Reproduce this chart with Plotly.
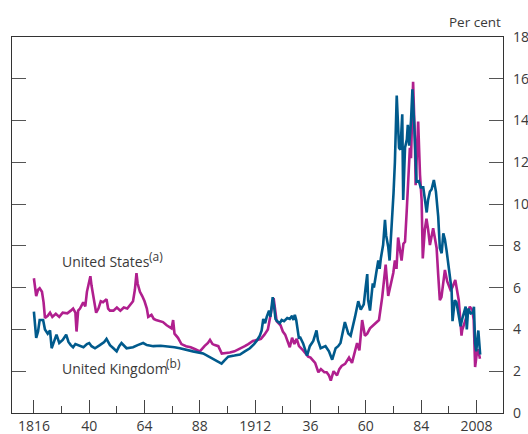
import plotly.graph_objects as go

us_years = [1816, 1816.6, 1817, 1817.8, 1818.5, 1819.5, 1820.2, 1820.8, 1822, 1823, 1824, 1825.5, 1827, 1828.5,
            1830.5, 1832, 1833, 1834, 1834.5, 1835.2, 1836, 1837.4, 1838.3, 1839, 1840.5, 1841, 1841.5, 1842.3,
            1843, 1844, 1845, 1846, 1847.5, 1848.2, 1849, 1850.5, 1852, 1853.5, 1855, 1856.5, 1858, 1859,
            1859.8, 1860.5, 1861, 1862, 1863, 1864, 1865, 1865.6, 1867, 1868, 1869, 1870.5, 1872, 1873.6,
            1875, 1875.7, 1876.4, 1877, 1878.5, 1880, 1882, 1884, 1886, 1888, 1890, 1891.5, 1892.4, 1893.5,
            1894.5, 1896, 1897.5, 1899, 1901, 1903, 1905, 1907.5, 1909, 1911, 1913, 1914.5, 1916, 1917.5,
            1918.5, 1919.2, 1920, 1920.7, 1921.3, 1923, 1924, 1925, 1926, 1927, 1928, 1929, 1930, 1931,
            1932.8, 1934, 1935, 1936, 1937.2, 1938, 1939.4, 1940.5, 1942, 1943, 1944, 1944.8, 1946, 1947.5,
            1948.5, 1949.5, 1951, 1952.7, 1954, 1955.3, 1956.2, 1957.2, 1958.4, 1959.6, 1960.6, 1961.8,
            1962.8, 1964, 1965.7, 1967.1, 1968.6, 1969.7, 1970.8, 1971.9, 1972.6, 1973.3, 1974, 1975.5,
            1976.3, 1977, 1977.7, 1978.4, 1979.1, 1979.6, 1980.5, 1981.3, 1981.6, 1982.7, 1983.5, 1984.2,
            1984.7, 1985.6, 1986.3, 1987, 1987.8, 1989.2, 1990.7, 1991.4, 1992.1, 1992.8, 1993.6, 1994.3,
            1995.3, 1996.7, 1997.5, 1998.8, 2000.3, 2001.5, 2001.8, 2002.5, 2003.3, 2004.7, 2005.1, 2006.2,
            2006.8, 2007.4, 2008.3, 2008.8, 2009.5]
us_values = [6.45, 6.0, 5.6, 5.9, 5.97, 5.8, 5.3, 4.55, 4.65, 4.8, 4.6, 4.75, 4.6, 4.8,
             4.77, 4.9, 5.0, 4.8, 3.9, 4.9, 5.0, 5.3, 5.1, 5.8, 6.55, 6.1, 5.8, 5.2,
             4.8, 5.0, 5.35, 5.3, 5.45, 5.0, 4.9, 4.9, 5.05, 4.9, 5.05, 5.0, 5.2, 5.35,
             5.9, 6.7, 6.2, 5.8, 5.6, 5.35, 5.0, 4.6, 4.7, 4.5, 4.45, 4.4, 4.35, 4.2,
             4.1, 4.05, 4.45, 3.8, 3.6, 3.3, 3.2, 3.15, 3.05, 2.95, 3.2, 3.35, 3.5, 3.3,
             3.25, 3.2, 2.85, 2.86, 2.9, 2.95, 3.05, 3.2, 3.3, 3.45, 3.5, 3.55, 3.75, 4.0,
             4.6, 5.1, 5.5, 4.9, 4.4, 4.2, 3.9, 3.75, 3.4, 3.15, 3.6, 3.3, 3.55, 3.2,
             3.0, 2.85, 2.7, 2.65, 2.5, 2.4, 1.95, 2.1, 1.95, 1.95, 1.8, 1.55, 2.0, 1.8,
             2.1, 2.25, 2.35, 2.65, 2.4, 3.0, 3.35, 3.0, 4.45, 3.7, 3.8, 4.05,
             4.15, 4.25, 4.45, 5.55, 7.1, 5.6, 6.2, 6.7, 7.3, 6.9, 8.4, 7.3,
             8.1, 8.2, 9.6, 10.9, 12.7, 12.2, 15.86, 13.0, 10.9, 13.95, 11.4, 10.2,
             7.4, 8.8, 9.3, 8.8, 8.04, 8.84, 7.9, 6.6, 5.4, 5.55, 6.2, 6.85,
             6.3, 5.9, 6.0, 6.37, 5.4, 3.7, 3.97, 4.2, 4.45, 5.0, 5.09, 4.93,
             4.45, 2.2, 3.0, 3.0, 2.6]

uk_years = [1816, 1816.5, 1817, 1817.8, 1818.5, 1820, 1820.8, 1822, 1823, 1823.7, 1825, 1825.8, 1827, 1828.5,
            1830, 1831, 1832, 1833, 1834, 1835, 1837.5, 1839, 1840, 1841, 1842.5, 1844.6, 1846.5, 1847.5,
            1849, 1850.5, 1851.9, 1853, 1854, 1856.2, 1859, 1861, 1863.4, 1865, 1867.8, 1871, 1874, 1877,
            1879.3, 1882, 1885, 1889.4, 1892, 1893.8, 1895.5, 1897.4, 1898.5, 1900.3, 1903, 1905.4, 1907.5,
            1909.7, 1911.5, 1912.6, 1914, 1914.8, 1915.5, 1916.3, 1917, 1918, 1918.6, 1919.6, 1920.2, 1920.8,
            1921.5, 1922.7, 1923.5, 1924.5, 1925.9, 1927, 1928, 1928.6, 1929.2, 1929.8, 1931, 1931.4, 1932.8,
            1933.5, 1934.5, 1935.7, 1937.2, 1938.6, 1939.2, 1940.4, 1942.5, 1944, 1945.4, 1946.9, 1948, 1949,
            1950.9, 1952.4, 1953.4, 1955.3, 1956.7, 1957.8, 1959.1, 1959.9, 1960.6, 1961, 1961.8, 1963,
            1963.5, 1964.5, 1965.4, 1966, 1966.5, 1967.5, 1968.3, 1968.8, 1969.7, 1970.3, 1971.2, 1972,
            1972.6, 1973.4, 1974.4, 1975, 1975.8, 1976.2, 1977, 1977.8, 1978.2, 1978.8, 1979.6, 1980.2,
            1981, 1982, 1983, 1983.8, 1984.9, 1985.5, 1986.4, 1987, 1987.8, 1988.5, 1989.5, 1990.4, 1990.9,
            1991.4, 1992.1, 1992.9, 1993.6, 1994.3, 1995, 1995.8, 1996.4, 1997.2, 1997.6, 1998.6, 1999.3,
            2000, 2001.1, 2001.8, 2003.3, 2003.8, 2004.4, 2005.5, 2006.5, 2006.9, 2007.4, 2007.9, 2008.8,
            2009.6]
uk_values = [4.85, 4.3, 3.6, 3.9, 4.45, 4.45, 4.0, 3.8, 3.95, 3.1, 3.5, 3.75, 3.35, 3.5,
             3.75, 3.4, 3.25, 3.15, 3.3, 3.25, 3.15, 3.3, 3.35, 3.2, 3.1, 3.25, 3.4, 3.55,
             3.25, 3.1, 2.95, 3.2, 3.35, 3.1, 3.15, 3.25, 3.35, 3.25, 3.2, 3.22, 3.2, 3.15,
             3.1, 3.02, 2.95, 2.85, 2.7, 2.6, 2.5, 2.36, 2.5, 2.7, 2.75, 2.8, 2.95,
             3.1, 3.3, 3.45, 3.7, 3.95, 4.5, 4.3, 4.6, 4.9, 4.6, 5.55, 5.1, 4.5,
             4.4, 4.3, 4.45, 4.4, 4.55, 4.5, 4.65, 4.45, 4.7, 4.45, 3.55, 3.65, 3.33,
             3.1, 2.75, 3.2, 3.45, 3.95, 3.5, 3.1, 3.2, 2.95, 2.55, 3.1, 3.2, 3.35,
             4.35, 3.8, 3.7, 4.6, 5.35, 4.95, 5.2, 6.0, 6.65, 5.4, 4.9, 6.2,
             6.0, 6.7, 7.3, 6.9, 7.4, 8.05, 9.25, 8.5, 7.96, 7.3, 8.9, 10.5,
             12.0, 15.2, 12.7, 12.6, 14.3, 10.2, 12.7, 13.1, 13.8, 12.8, 14.0, 15.5,
             13.8, 11.07, 11.1, 10.8, 10.8, 10.3, 9.6, 10.2, 10.6, 10.7, 11.15, 10.6, 10.0,
             9.4, 7.9, 7.65, 8.6, 8.3, 7.8, 7.0, 6.4, 5.9, 4.4, 5.4, 5.3,
             4.9, 4.15, 4.5, 5.09, 4.0, 5.0, 4.77, 4.8, 5.09, 3.33, 2.95, 3.95,
             2.8]

x_tick_vals = [1816, 1840, 1864, 1888, 1912, 1936, 1960, 1984, 2008]
x_tick_text = ["1816", "40", "64", "88", "1912", "36", "60", "84", "2008"]
x_minor_vals = [1828, 1852, 1876, 1900, 1924, 1948, 1972, 1996]
y_tick_vals = [0, 2, 4, 6, 8, 10, 12, 14, 16, 18]

MAGENTA = "#b01f8e"
BLUE = "#005a8c"
TEXT = "#3a3a3a"
FONT = "Open Sans"

fig = go.Figure()
fig.add_trace(go.Scatter(x=us_years, y=us_values, mode="lines",
                         line=dict(color=MAGENTA, width=2.6), name="United States"))
fig.add_trace(go.Scatter(x=uk_years, y=uk_values, mode="lines",
                         line=dict(color=BLUE, width=2.6), name="United Kingdom"))

fig.update_layout(
    width=528, height=434,
    margin=dict(l=12, r=25, t=37, b=21, autoexpand=False),
    paper_bgcolor="white", plot_bgcolor="white",
    showlegend=False,
    font=dict(family=FONT, size=13, color=TEXT),
    xaxis=dict(
        range=[1806.5, 2019.5],
        tickmode="array", tickvals=x_tick_vals, ticktext=x_tick_text,
        ticks="inside", ticklen=13, tickwidth=1.2, tickcolor="#444",
        showline=True, linecolor="#333", linewidth=1.3, mirror=True,
        showgrid=False, zeroline=False, automargin=False,
        minor=dict(tickmode="array", tickvals=x_minor_vals, ticks="inside",
                   ticklen=7, tickwidth=1.2, tickcolor="#444", showgrid=False),
        tickfont=dict(family=FONT, size=14, color=TEXT),
    ),
    yaxis=dict(
        range=[0, 18], side="right",
        tickmode="array", tickvals=y_tick_vals,
        ticks="inside", ticklen=14, tickwidth=1.2, tickcolor="#555",
        showline=True, linecolor="#333", linewidth=1.3, mirror="ticks",
        showgrid=False, zeroline=False, automargin=False,
        ticklabelstandoff=6,
        tickfont=dict(family=FONT, size=14, color=TEXT),
    ),
)

fig.add_annotation(xref="paper", yref="paper", x=1.0, y=1.0, yshift=4,
                   xanchor="right", yanchor="bottom", text="Per cent", showarrow=False,
                   font=dict(family=FONT, size=13.5, color=TEXT))
fig.add_annotation(xref="x", yref="y", x=1827.4, y=7.24, xanchor="left", yanchor="middle",
                   text="United States", showarrow=False,
                   font=dict(family=FONT, size=14, color=TEXT))
fig.add_annotation(xref="x", yref="y", x=1827.4, y=7.24, xanchor="left", yanchor="middle",
                   xshift=87, yshift=5, text="(a)", showarrow=False,
                   font=dict(family=FONT, size=12, color=TEXT))
fig.add_annotation(xref="x", yref="y", x=1827.4, y=2.14, xanchor="left", yanchor="middle",
                   text="United Kingdom", showarrow=False,
                   font=dict(family=FONT, size=14, color=TEXT))
fig.add_annotation(xref="x", yref="y", x=1827.4, y=2.14, xanchor="left", yanchor="middle",
                   xshift=104, yshift=5, text="(b)", showarrow=False,
                   font=dict(family=FONT, size=12, color=TEXT))

fig.write_html("out.html", config={"displayModeBar": False},
               post_script="document.body.style.margin='0';document.body.style.overflow='hidden';")
